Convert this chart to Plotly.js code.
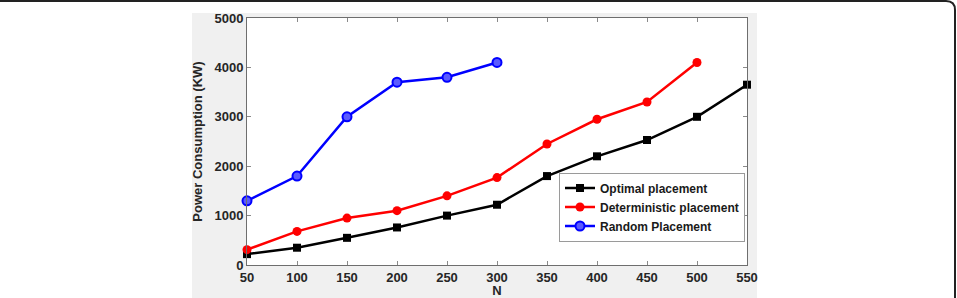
<!DOCTYPE html>
<html>
<head>
<meta charset="utf-8">
<script src="https://cdn.plot.ly/plotly-3.0.1.min.js"></script>
<style>
  html, body { margin: 0; padding: 0; background: #ffffff; }
  #chart { width: 957px; height: 298px; }
</style>
</head>
<body>
<div id="chart"></div>
<script>
// Number of nodes N
const nodes = [50, 100, 150, 200, 250, 300, 350, 400, 450, 500, 550];

// Power consumption (KW) for each placement strategy
const optimalPower = [220, 350, 550, 760, 1000, 1220, 1800, 2200, 2530, 3000, 3650];
const deterministicPower = [310, 680, 950, 1100, 1400, 1770, 2450, 2950, 3300, 4100];
const randomPower = [1300, 1800, 3000, 3700, 3800, 4100];

const seriesNames = ['Optimal placement', 'Deterministic placement', 'Random Placement'];

const xTicks = [50, 100, 150, 200, 250, 300, 350, 400, 450, 500, 550];
const yTicks = [0, 1000, 2000, 3000, 4000, 5000];

// Plot area in pixels
const W = 957, H = 298;
const M = { l: 247, r: 210, t: 18, b: 33 };
const PW = W - M.l - M.r, PH = H - M.t - M.b;
const px = v => (v - M.l) / PW;      // pixel x -> paper x
const py = v => (H - M.b - v) / PH;  // pixel y -> paper y

const traces = [
  {
    x: nodes.slice(0, optimalPower.length), y: optimalPower,
    name: seriesNames[0], mode: 'lines+markers', cliponaxis: false,
    line: { color: '#000000', width: 2.5 },
    marker: { symbol: 'square', size: 8, color: '#000000' }
  },
  {
    x: nodes.slice(0, deterministicPower.length), y: deterministicPower,
    name: seriesNames[1], mode: 'lines+markers', cliponaxis: false,
    line: { color: '#ff0000', width: 2.5 },
    marker: { symbol: 'circle', size: 9, color: '#ff0000' }
  },
  {
    x: nodes.slice(0, randomPower.length), y: randomPower,
    name: seriesNames[2], mode: 'lines+markers', cliponaxis: false,
    line: { color: '#0000ff', width: 2.5 },
    marker: { symbol: 'circle', size: 9, color: '#5a5aff', line: { color: '#0000ff', width: 2 } }
  }
];

const axisFont = { family: 'Liberation Sans, Arial, sans-serif', size: 13, color: '#262626', weight: 'bold' };

const layout = {
  width: W, height: H,
  margin: M,
  paper_bgcolor: '#ffffff',
  plot_bgcolor: '#ffffff',
  showlegend: true,
  font: axisFont,
  xaxis: {
    range: [50, 550],
    tickvals: xTicks,
    ticktext: xTicks.map(String),
    ticks: 'inside', ticklen: 4, tickcolor: '#8a8a8a', tickwidth: 1,
    showline: true, linecolor: '#6e6e6e', linewidth: 1, mirror: 'ticks',
    showgrid: false, zeroline: false,
    tickfont: axisFont,
    title: { text: 'N', font: axisFont, standoff: 3 }
  },
  yaxis: {
    range: [0, 5000],
    tickvals: yTicks,
    ticktext: yTicks.map(String),
    ticks: 'inside', ticklen: 4, tickcolor: '#8a8a8a', tickwidth: 1,
    showline: true, linecolor: '#6e6e6e', linewidth: 1, mirror: 'ticks',
    showgrid: false, zeroline: false,
    tickfont: axisFont,
    title: { text: 'Power Consumption (KW)', font: axisFont, standoff: 8 }
  },
  legend: {
    x: px(652), y: py(207), xanchor: 'center', yanchor: 'middle',
    bgcolor: '#ffffff', bordercolor: '#9a9a9a', borderwidth: 1,
    font: { family: 'Liberation Sans, Arial, sans-serif', size: 12, color: '#1a1a1a', weight: 'bold' },
    itemwidth: 30, tracegroupgap: 0
  },
  shapes: [
    // grey figure panel
    { type: 'rect', xref: 'paper', yref: 'paper', layer: 'below',
      x0: px(192), x1: px(757), y0: py(320), y1: py(13),
      fillcolor: '#f0f0f0', line: { width: 0 } },
    // white plotting area on top of the panel
    { type: 'rect', xref: 'paper', yref: 'paper', layer: 'below',
      x0: 0, x1: 1, y0: 0, y1: 1,
      fillcolor: '#ffffff', line: { width: 0 } },
    // outer frame with rounded top-right corner
    { type: 'path', xref: 'paper', yref: 'paper', layer: 'above',
      path: 'M ' + px(-5) + ' ' + py(1) +
            ' L ' + px(946) + ' ' + py(1) +
            ' Q ' + px(955) + ' ' + py(1) + ' ' + px(955) + ' ' + py(10) +
            ' L ' + px(955) + ' ' + py(310),
      line: { color: '#222222', width: 2 } }
  ]
};

Plotly.newPlot('chart', traces, layout, { displayModeBar: false, staticPlot: true });
</script>
</body>
</html>
